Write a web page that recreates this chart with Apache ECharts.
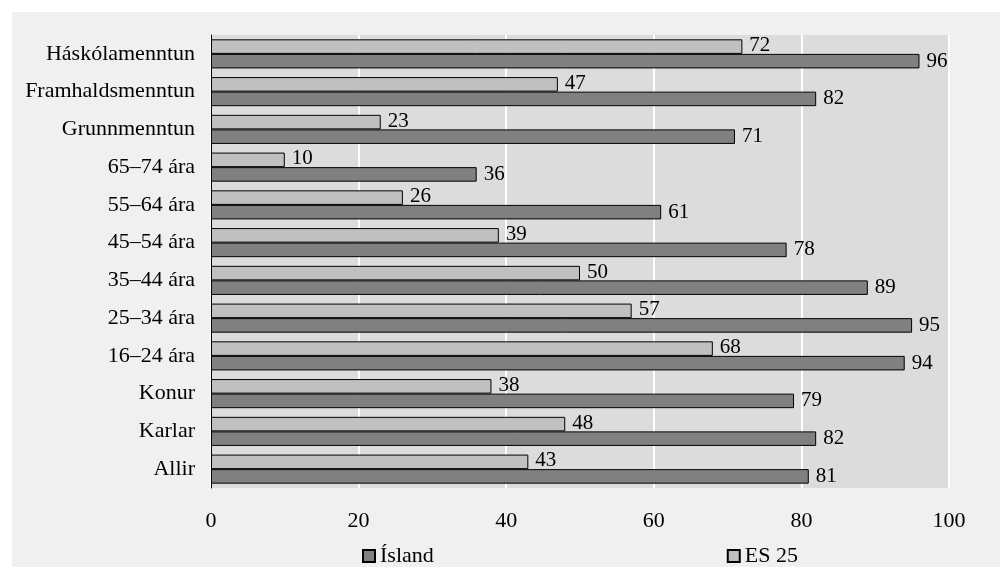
<!DOCTYPE html>
<html><head><meta charset="utf-8">
<script src="https://cdn.jsdelivr.net/npm/echarts@6/dist/echarts.min.js"></script>
<style>html,body{margin:0;padding:0;background:#fff}#c{width:1000px;height:567px}</style>
</head><body><div id="c"></div>
<script>
var categories = ['Allir','Karlar','Konur','16–24 ára','25–34 ára','35–44 ára','45–54 ára','55–64 ára','65–74 ára','Grunnmenntun','Framhaldsmenntun','Háskólamenntun'];
var islandValues = [81,82,79,94,95,89,78,61,36,71,82,96];
var es25Values = [43,48,38,68,57,50,39,26,10,23,47,72];
var xTicks = [0,20,40,60,80,100];
var seriesNames = ['Ísland','ES 25'];

var font = '"Liberation Serif","Times New Roman",serif';
var chart = echarts.init(document.getElementById('c'));
chart.setOption({
  backgroundColor: '#ffffff',
  animation: false,
  graphic: [{type:'rect', z:-10, shape:{x:12,y:12,width:988,height:555}, style:{fill:'#f0f0f0'}}],
  grid: {left:211, right:51, top:35, bottom:79, show:true, backgroundColor:'#dcdcdc', borderWidth:0},
  legend: {
    top: 540, left: 357, itemGap: 293, itemWidth: 12, itemHeight: 12,
    icon: 'rect',
    data: seriesNames,
    textStyle: {fontFamily: font, fontSize: 22, color:'#000'}
  },
  xAxis: {
    type:'value', min:0, max:100, interval:20,
    axisLine:{show:false}, axisTick:{show:false},
    splitLine:{show:true, lineStyle:{color:'#ffffff', width:2}},
    axisLabel:{fontFamily:font, fontSize:22, color:'#000', margin:22,
      formatter:function(v){return xTicks.indexOf(v)>=0?String(v):'';}}
  },
  yAxis: {
    type:'category', data: categories,
    axisLine:{show:true, lineStyle:{color:'#000', width:1}},
    axisTick:{show:false},
    axisLabel:{fontFamily:font, fontSize:22, color:'#000', margin:16}
  },
  series: [
    {name:seriesNames[1], type:'bar', data: es25Values, barGap:'0%', barCategoryGap:'23%',
     itemStyle:{color:'#c0c0c0', borderColor:'#000', borderWidth:1},
     label:{show:true, position:'right', distance:7, offset:[0,-1], fontFamily:font, fontSize:21, color:'#000'}},
    {name:seriesNames[0], type:'bar', data: islandValues, barGap:'0%', barCategoryGap:'23%',
     itemStyle:{color:'#808080', borderColor:'#000', borderWidth:1},
     label:{show:true, position:'right', distance:7, fontFamily:font, fontSize:21, color:'#000'}}
  ]
});
</script></body></html>
